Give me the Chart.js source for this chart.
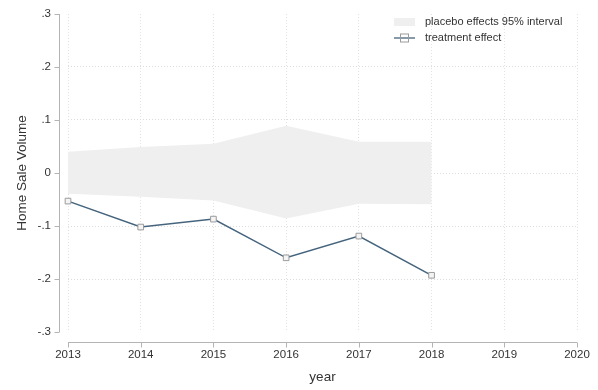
<!DOCTYPE html>
<html>
<head>
<meta charset="utf-8">
<script src="https://cdn.jsdelivr.net/npm/chart.js@4.4.1/dist/chart.umd.min.js"></script>
<style>
  html, body { margin: 0; padding: 0; background: #fff; }
  #wrap { width: 598px; height: 390px; position: relative; }
</style>
</head>
<body>
<div id="wrap"><canvas id="c" width="598" height="390"></canvas></div>
<script>
// Event-study years and estimates
const years = [2013, 2014, 2015, 2016, 2017, 2018];
const treatmentEffect = [-0.053, -0.102, -0.087, -0.160, -0.119, -0.193];
const placeboUpper = [0.040, 0.049, 0.055, 0.089, 0.059, 0.059];
const placeboLower = [-0.039, -0.045, -0.052, -0.086, -0.058, -0.059];
const yTicks = [-0.3, -0.2, -0.1, 0, 0.1, 0.2, 0.3];
const xRange = [2013, 2020];

const FONT = "'Liberation Sans', Arial, Helvetica, sans-serif";
const AXIS_COLOR = '#b4b4b4';
const TEXT_COLOR = '#333333';
const LINE_COLOR = '#44637c';
const BAND_COLOR = '#efefef';
const MARKER_EDGE = '#9c9c9c';

function fmtY(v) {
  const r = Math.round(v * 10) / 10;
  if (r === 0) return '0';
  const s = Math.abs(r).toFixed(1).replace(/^0/, '');
  return (r < 0 ? '-' : '') + s;
}

const pts = arr => years.map((y, i) => ({ x: y, y: arr[i] }));

// Offset axis lines, tick marks and the in-plot legend
const axesAndLegend = {
  id: 'axesAndLegend',
  afterDraw(chart) {
    const { ctx, chartArea, scales } = chart;
    const xs = scales.x, ys = scales.y;
    ctx.save();
    ctx.strokeStyle = AXIS_COLOR;
    ctx.lineWidth = 1;
    const ax = Math.round(chartArea.left) - 8.5;
    const ay = Math.round(chartArea.bottom) + 10.5;
    ctx.beginPath();
    ctx.moveTo(ax, ys.getPixelForValue(0.3));
    ctx.lineTo(ax, ys.getPixelForValue(-0.3));
    yTicks.forEach(v => {
      const p = Math.round(ys.getPixelForValue(v)) + 0.5;
      ctx.moveTo(ax - 5, p);
      ctx.lineTo(ax, p);
    });
    ctx.moveTo(xs.getPixelForValue(xRange[0]), ay);
    ctx.lineTo(xs.getPixelForValue(xRange[1]), ay);
    for (let yr = xRange[0]; yr <= xRange[1]; yr++) {
      const p = Math.round(xs.getPixelForValue(yr)) + 0.5;
      ctx.moveTo(p, ay);
      ctx.lineTo(p, ay + 5);
    }
    ctx.stroke();

    // legend
    const lx = 394, tx = 425, r1 = 22, r2 = 38;
    ctx.fillStyle = BAND_COLOR;
    ctx.fillRect(lx, r1 - 4, 21, 8);
    ctx.strokeStyle = LINE_COLOR;
    ctx.lineWidth = 1.3;
    ctx.beginPath();
    ctx.moveTo(lx, r2);
    ctx.lineTo(lx + 21, r2);
    ctx.stroke();
    ctx.strokeStyle = MARKER_EDGE;
    ctx.lineWidth = 1;
    ctx.strokeRect(lx + 6.5, r2 - 4, 8, 8);
    ctx.fillStyle = TEXT_COLOR;
    ctx.font = '11px ' + FONT;
    ctx.textBaseline = 'middle';
    ctx.textAlign = 'left';
    ctx.fillText('placebo effects 95% interval', tx, r1);
    ctx.fillText('treatment effect', tx, r2);
    ctx.restore();
  }
};

new Chart(document.getElementById('c'), {
  type: 'line',
  data: {
    datasets: [
      {
        label: 'treatment effect',
        data: pts(treatmentEffect),
        borderColor: LINE_COLOR,
        borderWidth: 1.5,
        pointStyle: 'rect',
        pointRadius: 4,
        pointBorderWidth: 1,
        pointBorderColor: MARKER_EDGE,
        pointBackgroundColor: '#f4f4f4',
        fill: false,
        clip: false,
        tension: 0
      },
      {
        label: 'placebo upper',
        data: pts(placeboUpper),
        borderWidth: 0,
        borderColor: 'rgba(0,0,0,0)',
        pointRadius: 0,
        backgroundColor: BAND_COLOR,
        fill: '+1',
        tension: 0
      },
      {
        label: 'placebo lower',
        data: pts(placeboLower),
        borderWidth: 0,
        borderColor: 'rgba(0,0,0,0)',
        pointRadius: 0,
        backgroundColor: BAND_COLOR,
        fill: false,
        tension: 0
      }
    ]
  },
  options: {
    responsive: false,
    animation: false,
    layout: { padding: { top: 14, right: 21, left: 0, bottom: 0 } },
    plugins: { legend: { display: false }, tooltip: { enabled: false } },
    scales: {
      x: {
        type: 'linear',
        min: xRange[0],
        max: xRange[1],
        afterFit(s) { s.height = 58; s.paddingLeft = 0; s.paddingRight = 0; },
        ticks: {
          stepSize: 1,
          padding: 16,
          color: TEXT_COLOR,
          font: { family: FONT, size: 11.5 },
          maxRotation: 0,
          callback: v => String(v)
        },
        grid: {
          color: '#e2e2e2',
          lineWidth: 1,
          tickLength: 0,
          drawTicks: false
        },
        border: { display: false, dash: [1, 2] },
        title: {
          display: true,
          text: 'year',
          color: TEXT_COLOR,
          font: { family: FONT, size: 13.5 },
          padding: { top: 0, bottom: 5 }
        }
      },
      y: {
        min: -0.3,
        max: 0.3,
        afterFit(s) { s.width = 68; s.paddingTop = 0; s.paddingBottom = 0; },
        afterBuildTicks(s) { s.ticks = yTicks.map(v => ({ value: v })); },
        ticks: {
          padding: 17,
          color: TEXT_COLOR,
          font: { family: FONT, size: 11.5 },
          callback: v => fmtY(v)
        },
        grid: {
          color: ctx => (Math.abs(Math.abs(ctx.tick.value) - 0.3) < 1e-6 ? 'rgba(0,0,0,0)' : '#dcdcdc'),
          lineWidth: 1,
          tickLength: 0,
          drawTicks: false
        },
        border: { display: false, dash: [1, 2] },
        title: {
          display: true,
          text: 'Home Sale Volume',
          color: TEXT_COLOR,
          font: { family: FONT, size: 13.5 },
          padding: { top: 14, bottom: 0 }
        }
      }
    }
  },
  plugins: [axesAndLegend]
});
</script>
</body>
</html>
